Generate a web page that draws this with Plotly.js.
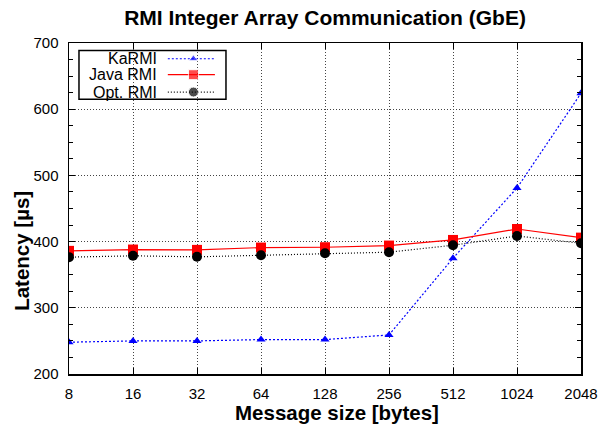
<!DOCTYPE html>
<html>
<head>
<meta charset="utf-8">
<script src="https://cdn.plot.ly/plotly-3.0.1.min.js"></script>
<style>html,body{margin:0;padding:0;background:#fff;}#chart{width:599px;height:432px;}</style>
</head>
<body>
<div id="chart"></div>
<script>
const sizes = [8, 16, 32, 64, 128, 256, 512, 1024, 2048];
const tickLabels = ["8", "16", "32", "64", "128", "256", "512", "1024", "2048"];
const karmi = [248, 250, 250, 252, 252, 259, 375, 481, 624];
const javaRmi = [386, 388, 387.5, 391, 391.5, 394, 402.5, 419, 406];
const optRmi = [376.5, 378.5, 377, 379.5, 382.5, 384, 394.5, 408.5, 397.5];
const seriesNames = ["KaRMI", "Java RMI", "Opt. RMI"];

const FONT = "Liberation Sans, Arial, Helvetica, sans-serif";

const traces = [
  {x: sizes, y: karmi, name: seriesNames[0], mode: "lines+markers", showlegend: false,
   line: {color: "#0000ff", width: 1.2, dash: "2px,2px"},
   marker: {symbol: "triangle-up", size: 8, color: "#0000ff"}},
  {x: sizes, y: javaRmi, name: seriesNames[1], mode: "lines+markers", showlegend: false,
   line: {color: "#ff0000", width: 1.2},
   marker: {symbol: "square", size: 10, color: "#ff0000"}},
  {x: sizes, y: optRmi, name: seriesNames[2], mode: "lines+markers", showlegend: false,
   line: {color: "#000000", width: 1.2, dash: "1px,2px"},
   marker: {symbol: "circle", size: 10, color: "#000000"}}
];

// custom legend (text on left, sample on right), drawn on an overlay 0..1 axis
const legRows = [0.9524, 0.9042, 0.8518];
const legStyles = [
  {line: {color: "#0000ff", width: 1.2, dash: "2px,2px"}, marker: {symbol: "triangle-up", color: "#0000ff"}, ms: 8},
  {line: {color: "#ff0000", width: 1.2}, marker: {symbol: "square", color: "#ff0000"}, ms: 10},
  {line: {color: "#000000", width: 1.2, dash: "1px,2px"}, marker: {symbol: "circle", color: "#000000"}, ms: 10}
];
legStyles.forEach((s, i) => {
  traces.push({
    x: [0.193, 0.243, 0.285], y: [legRows[i], legRows[i], legRows[i]],
    xaxis: "x2", yaxis: "y2", mode: "lines+markers", showlegend: false, hoverinfo: "skip",
    line: s.line, marker: Object.assign({}, s.marker, {size: [0, s.ms, 0]})
  });
});

const annotations = seriesNames.map((n, i) => ({
  xref: "paper", yref: "paper", x: 0.176, y: legRows[i], xanchor: "right", yanchor: "middle",
  text: n, showarrow: false, font: {family: FONT, size: 16, color: "#000"}
}));
annotations.push({
  xref: "paper", yref: "paper", x: 0.5225, y: -0.116, xanchor: "center", yanchor: "middle",
  text: "<b>Message size [bytes]</b>", showarrow: false, font: {family: FONT, size: 20.5, color: "#000"}
});
annotations.push({
  xref: "paper", yref: "paper", x: -0.0918, y: 0.372, xanchor: "center", yanchor: "middle", textangle: -90,
  text: "<b>Latency [µs]</b>", showarrow: false, font: {family: FONT, size: 20.5, color: "#000"}
});

const layout = {
  width: 599, height: 432,
  margin: {l: 69, r: 18, t: 42.5, b: 57.5},
  paper_bgcolor: "#fff", plot_bgcolor: "#fff",
  font: {family: FONT, size: 15, color: "#000"},
  title: {text: "<b>RMI Integer Array Communication (GbE)</b>", font: {family: FONT, size: 21, color: "#000"},
          x: 0.5426, xanchor: "center", y: 0.958, yanchor: "middle"},
  xaxis: {
    type: "log", range: [Math.log10(8), Math.log10(2048)],
    tickmode: "array", tickvals: sizes, ticktext: tickLabels,
    ticks: "inside", ticklen: 6, tickwidth: 1, tickcolor: "#000",
    showline: true, linecolor: "#000", linewidth: 1.5, mirror: "ticks",
    showgrid: true, gridcolor: "#444", griddash: "1px,2px", gridwidth: 1,
    zeroline: false, ticklabelstandoff: 5,
    tickfont: {family: FONT, size: 15}
  },
  yaxis: {
    range: [200, 700], tickmode: "linear", tick0: 200, dtick: 100,
    ticks: "inside", ticklen: 6, tickwidth: 1, tickcolor: "#000",
    minor: {dtick: 25, ticks: "inside", ticklen: 4, tickcolor: "#000", showgrid: false},
    showline: true, linecolor: "#000", linewidth: 1.5, mirror: "ticks",
    showgrid: true, gridcolor: "#444", griddash: "1px,2px", gridwidth: 1,
    zeroline: false, ticklabelstandoff: 6,
    tickfont: {family: FONT, size: 15}
  },
  xaxis2: {overlaying: "x", range: [0, 1], visible: false, anchor: "y2"},
  yaxis2: {overlaying: "y", range: [0, 1], visible: false, anchor: "x2"},
  shapes: [
    {type: "rect", xref: "paper", yref: "paper", x0: 0.0195, x1: 0.3066, y0: 0.8298, y1: 0.9774,
     line: {color: "#000", width: 1.5}, fillcolor: "#fff", layer: "below"}
  ],
  annotations: annotations,
  showlegend: false
};

Plotly.newPlot("chart", traces, layout, {staticPlot: true});
</script>
</body>
</html>
